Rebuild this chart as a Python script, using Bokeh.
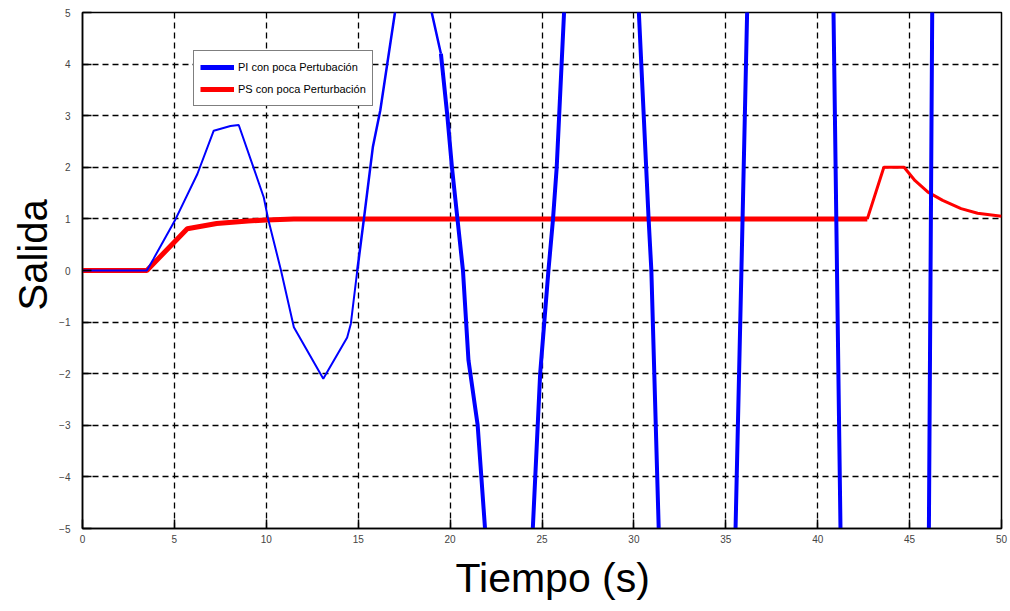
from bokeh.plotting import figure
from bokeh.models import Range1d, Legend, LegendItem, FixedTicker, Title
from bokeh.embed import file_html
from bokeh.resources import INLINE

# PI con poca Pertubación (blue) - time [s] and output
pi_t = [0, 3.5, 3.87, 5.07, 6.25, 7.14, 8.05, 8.5, 9.3, 9.86, 10.1, 10.8, 11.5, 13.1, 14.4, 14.6, 14.95,
        15.3, 15.8, 16.2, 17.0, 18.1, 19.0, 19.5,
        19.85, 20.1, 20.4, 20.7, 21.0, 21.5, 21.9, 23.4, 24.5, 24.9, 25.35, 25.6, 25.8, 26.2,
        28.5, 30.27, 30.8, 30.95, 31.35, 34.04, 35.53, 35.85, 36.16, 39.08, 40.86, 41.05, 41.24,
        44.5, 46.05, 46.14, 46.23, 48.0]
pi_v = [0, 0, 0.23, 1.0, 1.87, 2.71, 2.80, 2.82, 2.0, 1.42, 1.0, 0.0, -1.1, -2.1, -1.3, -1.03, 0.0,
        0.97, 2.4, 3.1, 5.0, 7.8, 5.0, 4.2,
        3.0, 2.0, 1.0, 0.0, -1.74, -3.0, -5.0, -11.3, -5.0, -2.0, 0.0, 1.0, 2.0, 5.0,
        18.5, 5.0, 1.0, 0.0, -5.0, -28.4, -5.0, 0.0, 5.0, 51.0, 5.0, 0.0, -5.0,
        -90.0, -5.0, 0.0, 5.0, 100.0]

# PS con poca Perturbación (red)
ps_t = [0, 3.5, 5.7, 7.3, 9.0, 10.0, 11.5, 42.7, 43.6, 44.7, 45.3, 46.0, 46.8, 47.8, 48.7, 50.0]
ps_v = [0, 0, 0.81, 0.91, 0.96, 0.98, 1.0, 1.0, 2.0, 2.0, 1.74, 1.52, 1.36, 1.2, 1.11, 1.05]

x_ticks = [0, 5, 10, 15, 20, 25, 30, 35, 40, 45, 50]
y_ticks = [-5, -4, -3, -2, -1, 0, 1, 2, 3, 4, 5]
legend_labels = ["PI con poca Pertubación", "PS con poca Perturbación"]
x_title = "Tiempo (s)"
y_title = "Salida"

p = figure(width=1010, height=611, output_backend="svg", toolbar_location=None,
           x_range=Range1d(0, 50), y_range=Range1d(-5, 5),
           min_border_left=82, min_border_right=9, min_border_top=12, min_border_bottom=83)

p.background_fill_color = "white"
p.border_fill_color = "white"
p.outline_line_color = "black"
p.outline_line_width = 1.5

for ax in (p.xaxis[0], p.yaxis[0]):
    ax.major_tick_in = 9
    ax.major_tick_out = 0
    ax.minor_tick_in = 0
    ax.minor_tick_out = 0
    ax.axis_line_color = "black"
    ax.axis_line_width = 1.5
    ax.major_tick_line_color = "black"
    ax.major_tick_line_width = 1.5
    ax.major_label_text_font = "Liberation Sans"
    ax.major_label_text_font_size = "10px"
    ax.major_label_text_color = "#444444"

p.xaxis.ticker = FixedTicker(ticks=x_ticks)
p.yaxis.ticker = FixedTicker(ticks=y_ticks)
p.xaxis.major_label_standoff = 6
p.yaxis.major_label_standoff = 12

p.grid.grid_line_color = "black"
p.grid.grid_line_dash = "6 4"
p.grid.grid_line_width = 1.3
p.grid.grid_line_alpha = 1.0

# red curve: thick flat part, thinner bump part
i_red = ps_t.index(42.7)
r_red1 = p.line(ps_t[:i_red + 1], ps_v[:i_red + 1], line_color="#ff0000", line_width=5)
r_red2 = p.line(ps_t[i_red:], ps_v[i_red:], line_color="#ff0000", line_width=3)

# blue curve in three segments of increasing width
i1 = pi_t.index(14.95)
i2 = pi_t.index(19.5)
r_b1 = p.line(pi_t[:i1 + 1], pi_v[:i1 + 1], line_color="#0000ff", line_width=2)
r_b2 = p.line(pi_t[i1:i2 + 1], pi_v[i1:i2 + 1], line_color="#0000ff", line_width=2.5)
r_b3 = p.line(pi_t[i2:], pi_v[i2:], line_color="#0000ff", line_width=4)

# legend proxies (drawn outside view so only legend shows them)
leg_b = p.line([-10, -9], [-10, -10], line_color="#0000ff", line_width=5)
leg_r = p.line([-10, -9], [-10, -10], line_color="#ff0000", line_width=5)

legend = Legend(items=[LegendItem(label=legend_labels[0], renderers=[leg_b]),
                       LegendItem(label=legend_labels[1], renderers=[leg_r])],
                location=(111, 422))
legend.label_text_font = "Liberation Sans"
legend.label_text_font_size = "11px"
legend.label_text_color = "black"
legend.glyph_width = 34
legend.glyph_height = 20
legend.label_height = 20
legend.label_standoff = 4
legend.spacing = 2
legend.padding = 6
legend.margin = 0
legend.border_line_color = "black"
legend.border_line_width = 1.5
legend.background_fill_color = "white"
legend.background_fill_alpha = 1.0
p.add_layout(legend, "center")

# axis titles as side titles (left-aligned with offset, like the reference)
p.add_layout(Title(text=x_title, align="left", offset=373, standoff=14,
                   text_font="Liberation Sans", text_font_size="41px",
                   text_font_style="normal", text_color="black"), "below")
p.add_layout(Title(text=y_title, align="left", offset=218, standoff=4,
                   text_font="Liberation Sans", text_font_size="40px",
                   text_font_style="normal", text_color="black"), "left")

open("out.html", "w").write(file_html(p, INLINE))
